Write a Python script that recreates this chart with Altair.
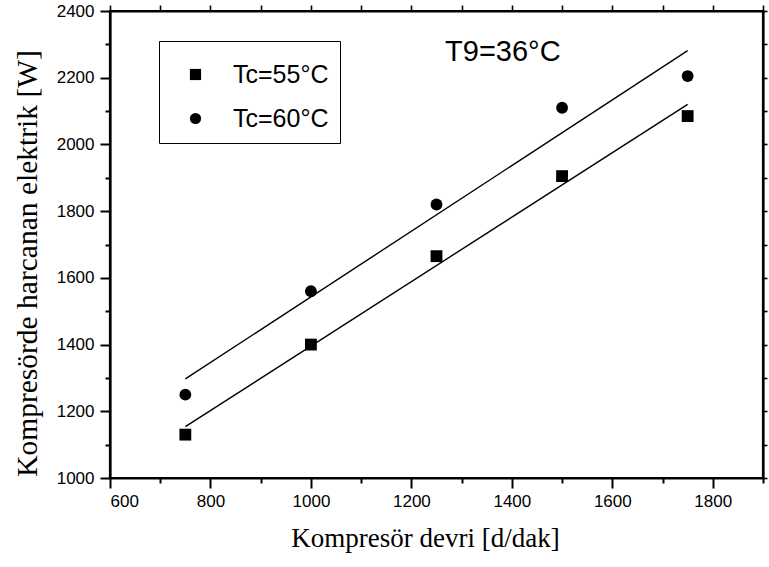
import altair as alt
import pandas as pd

# ---- data ----
rpm = [750, 1000, 1250, 1500, 1750]
power_55 = [1130, 1400, 1665, 1905, 2085]
power_60 = [1250, 1560, 1820, 2110, 2205]
series_names = ["Tc=55°C", "Tc=60°C"]

x_major = [600, 800, 1000, 1200, 1400, 1600, 1800]
x_minor = [700, 900, 1100, 1300, 1500, 1700, 1900]
y_major = [1000, 1200, 1400, 1600, 1800, 2000, 2200, 2400]
y_minor = [1100, 1300, 1500, 1700, 1900, 2100, 2300]
x_all = [600, 700, 800, 900, 1000, 1100, 1200, 1300, 1400, 1500, 1600, 1700, 1800, 1900]
y_all = [1000, 1100, 1200, 1300, 1400, 1500, 1600, 1700, 1800, 1900, 2000, 2100, 2200, 2300, 2400]

note_text = ["T9=36°C"]
note_x = [1267]
note_y = [2277]

df = pd.DataFrame({
    "rpm": rpm + rpm,
    "power": power_55 + power_60,
    "series": [series_names[0]] * len(rpm) + [series_names[1]] * len(rpm),
})
notes = pd.DataFrame({"nx": note_x, "ny": note_y, "t": note_text})

SANS = "Liberation Sans"
SERIF = "Liberation Serif"

xscale = alt.Scale(domain=[600, 1900], nice=False, zero=False)
yscale = alt.Scale(domain=[1000, 2400], nice=False, zero=False)

frame = dict(domain=True, domainColor="black", domainWidth=2.2, grid=False)

points = alt.Chart(df).mark_point(filled=True, opacity=1, size=140, strokeWidth=0).encode(
    x=alt.X("rpm:Q", scale=xscale, axis=alt.Axis(
        orient="bottom", values=x_major, format="d", title="Kompresör devri [d/dak]",
        titleFont=SERIF, titleFontSize=27, titleFontWeight="normal", titleColor="black",
        titlePadding=16, titleX=315, labelFont=SANS, labelFontSize=17, labelColor="black",
        labelPadding=5, tickSize=10, tickWidth=2, tickColor="black", **frame)),
    y=alt.Y("power:Q", scale=yscale, axis=alt.Axis(
        orient="left", values=y_major, format="d", title="Kompresörde harcanan elektrik [W]",
        titleFont=SERIF, titleFontSize=29.5, titleFontWeight="normal", titleColor="black",
        titlePadding=14, titleY=252, labelFont=SANS, labelFontSize=17, labelColor="black",
        labelPadding=6, tickSize=10, tickWidth=2, tickColor="black", **frame)),
    shape=alt.Shape("series:N", scale=alt.Scale(domain=series_names, range=["square", "circle"]),
                    legend=alt.Legend(
                        title=" ", titleFontSize=10, titlePadding=0,
                        orient="none", legendX=49, legendY=30,
                        strokeColor="black", padding=11, symbolOffset=13,
                        symbolFillColor="black", symbolStrokeWidth=0, symbolSize=125,
                        labelFont=SANS, labelFontSize=25, labelColor="black",
                        labelOffset=25, rowPadding=18)),
    color=alt.value("black"),
)

lines = alt.Chart(df).transform_regression(
    "rpm", "power", groupby=["series"]
).mark_line(color="black", strokeWidth=1.4).encode(
    x=alt.X("rpm:Q", scale=xscale, axis=alt.Axis(
        orient="bottom", values=x_minor, labels=False, title="", tickSize=5,
        tickWidth=2, tickColor="black", domain=False, grid=False)),
    y=alt.Y("power:Q", scale=yscale, axis=alt.Axis(
        orient="left", values=y_minor, labels=False, title="", tickSize=5,
        tickWidth=2, tickColor="black", domain=False, grid=False)),
    detail="series:N",
)

note = alt.Chart(notes).mark_text(
    align="left", baseline="middle", font=SANS, fontSize=29, color="black"
).encode(
    x=alt.X("nx:Q", scale=xscale, axis=alt.Axis(
        orient="top", values=x_all, labels=False, title="", tickSize=6,
        tickWidth=1.6, tickColor="black", **frame)),
    y=alt.Y("ny:Q", scale=yscale, axis=alt.Axis(
        orient="right", values=y_all, labels=False, title="", tickSize=4,
        tickWidth=1.6, tickColor="black", **frame)),
    text="t:N",
)

chart = alt.layer(points, lines, note).resolve_axis(
    x="independent", y="independent"
).properties(
    width=653, height=467,
    autosize="none",
    padding={"left": 110, "top": 11, "right": 6, "bottom": 89},
).configure(background="white").configure_view(stroke="black", strokeWidth=2.2)

chart.save("out.html", embed_options={"renderer": "svg", "actions": False})
